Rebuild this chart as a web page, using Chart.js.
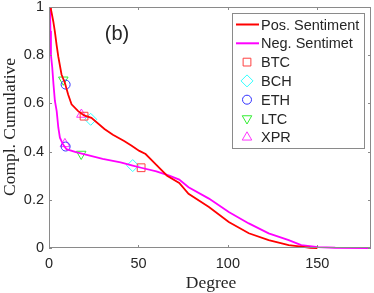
<!DOCTYPE html>
<html>
<head>
<meta charset="utf-8">
<script src="https://cdn.jsdelivr.net/npm/chart.js@4/dist/chart.umd.min.js"></script>
<style>
  html, body { margin: 0; padding: 0; background: #fff; overflow: hidden; }
  #clip { width: 374px; height: 293px; overflow: hidden; }
  #wrap { width: 378px; height: 293px; }
</style>
</head>
<body>
<div id="clip"><div id="wrap"><canvas id="myChart"></canvas></div></div>
<script>
// data
const degPos = [1.1, 1.1, 2.4, 3.3, 4.3, 5.2, 7, 8.9, 10.7, 12.6, 16.3, 19.6, 23.7, 31, 35.7, 42, 46, 50.5, 54, 60, 66, 72.8, 78, 89.4, 100.5, 111.7, 122.8, 134, 141, 146, 150];
const cumPos = [1.0, 0.99, 0.94, 0.897, 0.84, 0.794, 0.72, 0.685, 0.637, 0.596, 0.568, 0.55, 0.54, 0.494, 0.47, 0.444, 0.425, 0.403, 0.39, 0.345, 0.3, 0.27, 0.225, 0.17, 0.108, 0.061, 0.033, 0.012, 0.006, 0.001, 0];

const degNeg = [0.55, 0.8, 1.1, 1.8, 2.5, 3.3, 4.3, 5.2, 6.1, 7.8, 9.8, 15, 22.8, 30, 40, 46.8, 51.5, 60, 67.2, 72.8, 78, 89.4, 100.5, 111.7, 122.8, 134, 141, 150.5, 160, 180];
const cumNeg = [1.0, 0.9, 0.8, 0.75, 0.68, 0.61, 0.568, 0.5, 0.458, 0.43, 0.41, 0.398, 0.383, 0.37, 0.355, 0.342, 0.333, 0.318, 0.3, 0.284, 0.252, 0.205, 0.149, 0.102, 0.061, 0.033, 0.012, 0.004, 0.001, 0];

const coins = ["BTC", "BCH", "ETH", "LTC", "XPR"];
const coinPosDeg = [19.6, 23.3, 9.3, 8.0, 18.1];
const coinPosCum = [0.547, 0.534, 0.678, 0.698, 0.554];
const coinNegDeg = [51.5, 46.8, 9.3, 18.0, 8.9];
const coinNegCum = [0.333, 0.342, 0.421, 0.39, 0.432];

const xTicks = [0, 50, 100, 150];
const yTicks = [0, 0.2, 0.4, 0.6, 0.8, 1];

const coinColors = ["#ff4040", "#33ffff", "#3333ff", "#33ee33", "#ff33ff"];
const coinStyles = ["rect", "rectRot", "circle", "triangle", "triangle"];
const coinRot = [0, 0, 0, 180, 0];
const coinRadius = [5.5, 6, 4.5, 5.5, 5.5];

const toPts = (xs, ys) => xs.map((x, i) => ({ x: x, y: ys[i] }));

const datasets = [
  {
    label: "Pos. Sentiment",
    data: toPts(degPos, cumPos),
    borderColor: "#ff0000",
    borderWidth: 1.8,
    pointRadius: 0,
    clip: 3,
  },
  {
    label: "Neg. Sentimet",
    data: toPts(degNeg, cumNeg),
    borderColor: "#ff00ff",
    borderWidth: 1.8,
    pointRadius: 0,
    clip: 3,
  },
];

coins.forEach((c, i) => {
  datasets.push({
    label: c,
    data: [
      { x: coinPosDeg[i], y: coinPosCum[i] },
      { x: coinNegDeg[i], y: coinNegCum[i] },
    ],
    showLine: false,
    pointStyle: coinStyles[i],
    pointRotation: coinRot[i],
    pointRadius: coinRadius[i],
    pointBorderWidth: 1,
    pointBorderColor: coinColors[i],
    pointBackgroundColor: "rgba(0,0,0,0)",
  });
});

const axisGrey = "#8a8a8a";
const textColor = "#262626";

// box, inner ticks, legend, labels
const decorations = {
  id: "decorations",
  afterDraw(chart) {
    const c = chart.ctx;
    const a = chart.chartArea;
    const xs = chart.scales.x;
    const ys = chart.scales.y;
    c.save();
    c.strokeStyle = axisGrey;
    c.lineWidth = 1;
    c.beginPath();
    c.rect(Math.round(a.left) + 0.5, Math.round(a.top) + 0.5, Math.round(a.right - a.left) - 1, Math.round(a.bottom - a.top) - 1);
    xTicks.forEach((t) => {
      const px = Math.round(xs.getPixelForValue(t)) + 0.5;
      c.moveTo(px, a.bottom);
      c.lineTo(px, a.bottom - 3);
      c.moveTo(px, a.top);
      c.lineTo(px, a.top + 3);
    });
    yTicks.forEach((t) => {
      const py = Math.round(ys.getPixelForValue(t)) + 0.5;
      c.moveTo(a.left, py);
      c.lineTo(a.left + 3, py);
      c.moveTo(a.right, py);
      c.lineTo(a.right - 3, py);
    });
    c.stroke();

    // panel label
    c.fillStyle = textColor;
    c.font = "20px 'Liberation Sans', Arial, sans-serif";
    c.textAlign = "center";
    c.textBaseline = "middle";
    c.fillText("(b)", 117, 34);

    // axis titles
    c.font = "17.5px 'Liberation Serif', 'Times New Roman', serif";
    c.fillText("Degree", 211, 283);
    c.save();
    c.translate(10, 127);
    c.rotate(-Math.PI / 2);
    c.fillText("Compl. Cumulative", 0, 0);
    c.restore();

    // legend
    const lx = 232.5, ly = 13.5, lw = 132, lh = 135;
    c.fillStyle = "#ffffff";
    c.fillRect(lx, ly, lw, lh);
    c.strokeStyle = axisGrey;
    c.strokeRect(lx, ly, lw, lh);
    c.font = "14.5px 'Liberation Sans', Arial, sans-serif";
    c.textAlign = "left";
    const rowH = 18.8;
    chart.data.datasets.forEach((ds, i) => {
      const cy = ly + 11 + i * rowH;
      if (ds.showLine === false) {
        c.lineWidth = 1;
        c.fillStyle = "rgba(0,0,0,0)";
        c.strokeStyle = ds.pointBorderColor;
        Chart.helpers.drawPoint(c, {
          pointStyle: ds.pointStyle,
          radius: ds.pointRadius,
          rotation: ds.pointRotation,
          borderWidth: 1,
        }, 247, cy);
      } else {
        c.strokeStyle = ds.borderColor;
        c.lineWidth = 2;
        c.beginPath();
        c.moveTo(236, cy);
        c.lineTo(259, cy);
        c.stroke();
      }
      c.fillStyle = textColor;
      c.fillText(ds.label, 261, cy + 1);
    });
    c.restore();
  },
};

new Chart(document.getElementById("myChart"), {
  type: "line",
  data: { datasets: datasets },
  options: {
    responsive: true,
    maintainAspectRatio: false,
    animation: false,
    layout: { padding: { top: 5, right: 0, left: 0, bottom: 0 } },
    plugins: {
      legend: { display: false },
      tooltip: { enabled: false },
    },
    elements: { line: { tension: 0 } },
    scales: {
      x: {
        type: "linear",
        min: 0,
        max: 180,
        afterBuildTicks: (s) => { s.ticks = xTicks.map((v) => ({ value: v })); },
        afterFit: (s) => { s.height = 45; s.paddingLeft = 0; s.paddingRight = 0; },
        grid: { display: false, drawTicks: false },
        border: { display: false },
        ticks: {
          padding: 7,
          color: textColor,
          maxRotation: 0,
          font: { family: "'Liberation Sans', Arial, sans-serif", size: 14.5 },
        },
      },
      y: {
        type: "linear",
        min: 0,
        max: 1,
        afterBuildTicks: (s) => { s.ticks = yTicks.map((v) => ({ value: v })); },
        afterFit: (s) => { s.width = 49; s.paddingTop = 0; s.paddingBottom = 0; },
        grid: { display: false, drawTicks: false },
        border: { display: false },
        ticks: {
          padding: 5,
          color: textColor,
          font: { family: "'Liberation Sans', Arial, sans-serif", size: 14.5 },
          callback: (v) => String(v),
        },
      },
    },
  },
  plugins: [decorations],
});
</script>
</body>
</html>
